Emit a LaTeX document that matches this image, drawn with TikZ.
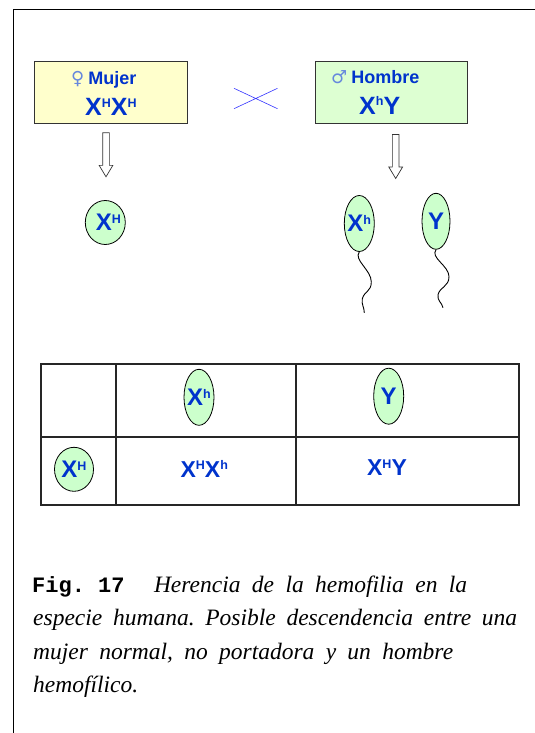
\documentclass[tikz,border=0pt]{standalone}
\usepackage{fontspec}
\setmainfont{Liberation Serif}
\newfontfamily\arialfont{Liberation Sans}
\newfontfamily\courierfont{Liberation Mono}
\newfontfamily\signfont{DejaVu Sans}
\usetikzlibrary{shapes.geometric,shapes.arrows}
\definecolor{geneblue}{HTML}{0033CC}
\definecolor{symblue}{HTML}{6688DD}
\definecolor{crossblue}{HTML}{3333FF}
\definecolor{mujerfill}{HTML}{FFFFCC}
\definecolor{hombrefill}{HTML}{DDFFD2}
\definecolor{gametefill}{HTML}{CCFFCC}
\newcommand\allele[3][7.4pt]{#2\raisebox{#1}{\fontsize{12.5pt}{13pt}\selectfont #3}}
\newcommand\sexsign[1]{{\color{symblue}\signfont\fontsize{18pt}{20pt}\selectfont #1}}
\frenchspacing
\tikzset{
  parent/.style={draw=black!80, line width=0.8pt, minimum width=153pt, minimum height=62pt, inner sep=0pt},
  nametext/.style={text=geneblue, font=\arialfont\bfseries\fontsize{18pt}{20pt}\selectfont, inner sep=0pt, anchor=base west},
  bigtext/.style={text=geneblue, font=\arialfont\bfseries\fontsize{25pt}{27pt}\selectfont, inner sep=0pt, anchor=base west},
  genetext/.style={text=geneblue, font=\arialfont\bfseries\fontsize{24pt}{26pt}\selectfont, inner sep=0pt},
  childtext/.style={genetext, font=\arialfont\bfseries\fontsize{23pt}{25pt}\selectfont},
  egg/.style={ellipse, draw, fill=gametefill, line width=0.8pt, inner sep=0pt, minimum width=40pt, minimum height=44pt},
  sperm/.style={ellipse, draw, fill=gametefill, line width=0.8pt, inner sep=0pt, minimum width=30pt, minimum height=56pt},
  blockarrow/.style={single arrow, draw=black!80, fill=white, line width=0.7pt, shape border rotate=270,
    minimum height=44pt, inner sep=3pt, single arrow head extend=3.5pt, single arrow tip angle=62},
  tail/.style={line width=0.9pt},
  captiontext/.style={font=\itshape\fontsize{23.5pt}{26pt}\selectfont, inner sep=0pt, anchor=base west}
}
\begin{document}
\begin{tikzpicture}[x=1pt,y=-1pt]
  \useasboundingbox (0,0) rectangle (535,733);
  \draw[line width=1pt] (535,9.3) -- (13.5,9.3) -- (13.5,733);

  % parents
  \node[parent, fill=mujerfill] (mujer) at (110.8,92.9) {};
  \node[parent, fill=hombrefill, minimum width=152pt] (hombre) at (391.7,92.2) {};
  \node[nametext] (mujerName) at (71,85) {\sexsign{♀}\hspace{4pt}Mujer};
  \node[bigtext] (mujerGen) at (85,116) {\allele[8.3pt]{X}{H}\allele[8.3pt]{X}{H}};
  \node[nametext] (hombreName) at (331,84) {\sexsign{♂}\hspace{4pt}Hombre};
  \node[bigtext] (hombreGen) at (359,114) {\allele[8.3pt]{X}{h}Y};
  \draw[crossblue, line width=0.6pt] (234,88.3) -- (277.5,108.7) (234,108.7) -- (277.5,88.3);

  \node[blockarrow] (arrowM) at (106,152) {};
  \node[blockarrow] (arrowH) at (395.7,153.7) {};

  % gametes
  \node[egg, label={[genetext, xshift=3pt]center:\allele{X}{H}}] (eggH) at (105.3,222.5) {};
  \node[sperm, label={[genetext]center:\allele{X}{h}}] (spermX) at (359.3,223.5) {};
  \node[sperm, minimum width=28pt, label={[genetext]center:Y}] (spermY) at (436,221.3) {};
  \draw[tail] (spermX.south) .. controls +(-6,8) and +(0,-12) .. ++(12,30)
    .. controls +(0,10) and +(2,-8) .. ++(-9,17) .. controls +(-1,6) and +(0,-6) .. ++(2,14);
  \draw[tail] (spermY.south) .. controls +(-6,8) and +(0,-11) .. ++(13,27)
    .. controls +(0,10) and +(2,-8) .. ++(-11,18) .. controls +(-1,6) and +(-1,-5) .. ++(5,13);

  % punnett table
  \begin{scope}[draw=black!85, line width=1.2pt]
    \draw (41,364) rectangle (519,505);
    \draw (116,364) -- (116,505) (296,364) -- (296,505) (41,437) -- (519,437);
  \end{scope}
  \node[sperm, label={[genetext]center:\allele{X}{h}}] (cellX) at (199,397.3) {};
  \node[sperm, label={[genetext]center:Y}] (cellY) at (388.7,396.2) {};
  \node[egg, minimum width=39pt, label={[genetext]center:\allele{X}{H}}] (cellH) at (74,469.3) {};
  \node[childtext] (childF) at (204.3,469) {\allele{X}{H}\allele{X}{h}};
  \node[childtext] (childM) at (387,467.5) {\allele{X}{H}Y};

  % caption
  \node[captiontext] (cap1) at (32,592) {\makebox[435pt][s]{\mbox{\courierfont\bfseries\upshape\fontsize{22pt}{26pt}\selectfont Fig. 17}\hspace{18pt} Herencia de la hemofilia en la}};
  \node[captiontext] (cap2) at (33,625) {\makebox[484pt][s]{especie humana. Posible descendencia entre una}};
  \node[captiontext] (cap3) at (33,659) {\makebox[420pt][s]{mujer normal, no portadora y un hombre}};
  \node[captiontext] (cap4) at (33,692) {hemofílico.};
\end{tikzpicture}
\end{document}
